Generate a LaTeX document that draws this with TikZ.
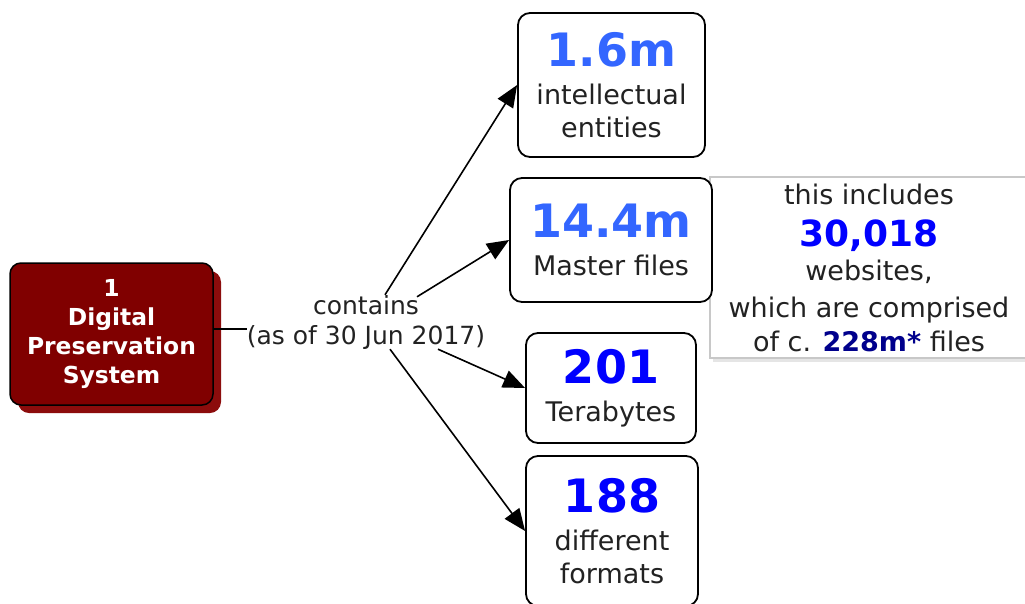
\documentclass[tikz,border=0pt]{standalone}
\usepackage{fontspec}
\setmainfont{DejaVu Sans}
\usetikzlibrary{arrows.meta, shadows}
\definecolor{maroonfill}{RGB}{128,0,0}
\definecolor{maroonshade}{RGB}{140,12,12}
\definecolor{lightnum}{RGB}{51,102,255}
\definecolor{darknum}{RGB}{0,0,255}
\definecolor{navynum}{RGB}{0,0,140}
\definecolor{bodytext}{RGB}{34,34,34}
\definecolor{noteborder}{RGB}{200,200,200}
\tikzstyle{countbox} = [rectangle, rounded corners=12pt, draw=black, line width=1.8pt, fill=white, text=bodytext, align=center, inner sep=0pt, font=\fontsize{27}{33}\selectfont]
\tikzstyle{rootbox} = [rectangle, rounded corners=11pt, draw=black, line width=1.5pt, fill=maroonfill, text=white, align=center, inner sep=0pt, minimum width=203pt, minimum height=142pt, font=\bfseries\fontsize{23.4}{29}\selectfont, drop shadow={shadow xshift=8pt, shadow yshift=-8pt, fill=maroonshade, opacity=1}]
\tikzstyle{notebox} = [rectangle, draw=noteborder, line width=1.2pt, fill=white, text=bodytext, align=center, inner sep=0pt, font=\fontsize{27}{34}\selectfont, drop shadow={shadow xshift=3pt, shadow yshift=-4pt, fill=black!10, opacity=1}]
\tikzstyle{edgelabel} = [inner sep=0pt, align=center, text=bodytext, font=\fontsize{25}{30}\selectfont]
\tikzstyle{arrow} = [line width=1.6pt, -{Triangle[length=22pt,width=18pt]}]
\newcommand{\bignum}[2]{{\color{#1}\fontsize{46}{46}\selectfont\bfseries #2}}

\begin{document}
\begin{tikzpicture}[x=1pt, y=-1pt]
\useasboundingbox (0,0) rectangle (1025,603);

%% NODES

\node (dps) [rootbox] at (111.5,334) {1\\Digital\\Preservation\\System};
\node (contains) [edgelabel] at (366,322) {contains\\(as of 30 Jun 2017)};

\node (note) [notebox, minimum width=318pt, minimum height=181pt] at (869,267.5) {this includes\\[8pt]{\color{darknum}\fontsize{36}{36}\selectfont\bfseries 30,018}\\websites,\\[3pt]which are comprised\\of c. {\color{navynum}\bfseries 228m*} files};

\node (entities) [countbox, minimum width=187pt, minimum height=144pt] at (611.5,85) {\bignum{lightnum}{1.6m}\\[5pt]intellectual\\entities};
\node (masters) [countbox, minimum width=202pt, minimum height=124pt] at (611,240) {\bignum{lightnum}{14.4m}\\[5pt]Master files};
\node (tera) [countbox, minimum width=170pt, minimum height=110pt] at (611,388) {\bignum{darknum}{201}\\[5pt]Terabytes};
\node (formats) [countbox, minimum width=172pt, minimum height=150pt] at (612,531) {\bignum{darknum}{188}\\[5pt]different\\formats};

%% ARROWS

\draw [line width=1.6pt] ([yshift=-7pt]contains.west -| dps.east) -- ([yshift=-7pt]contains.west);
\draw [arrow] ([xshift=19pt]contains.north) -- (entities.west);
\draw [arrow] ([xshift=51pt,yshift=-2pt]contains.north) -- (masters.west);
\draw [arrow] ([xshift=72pt]contains.south) -- (tera.west);
\draw [arrow] ([xshift=24pt]contains.south) -- (formats.west);

\end{tikzpicture}
\end{document}
